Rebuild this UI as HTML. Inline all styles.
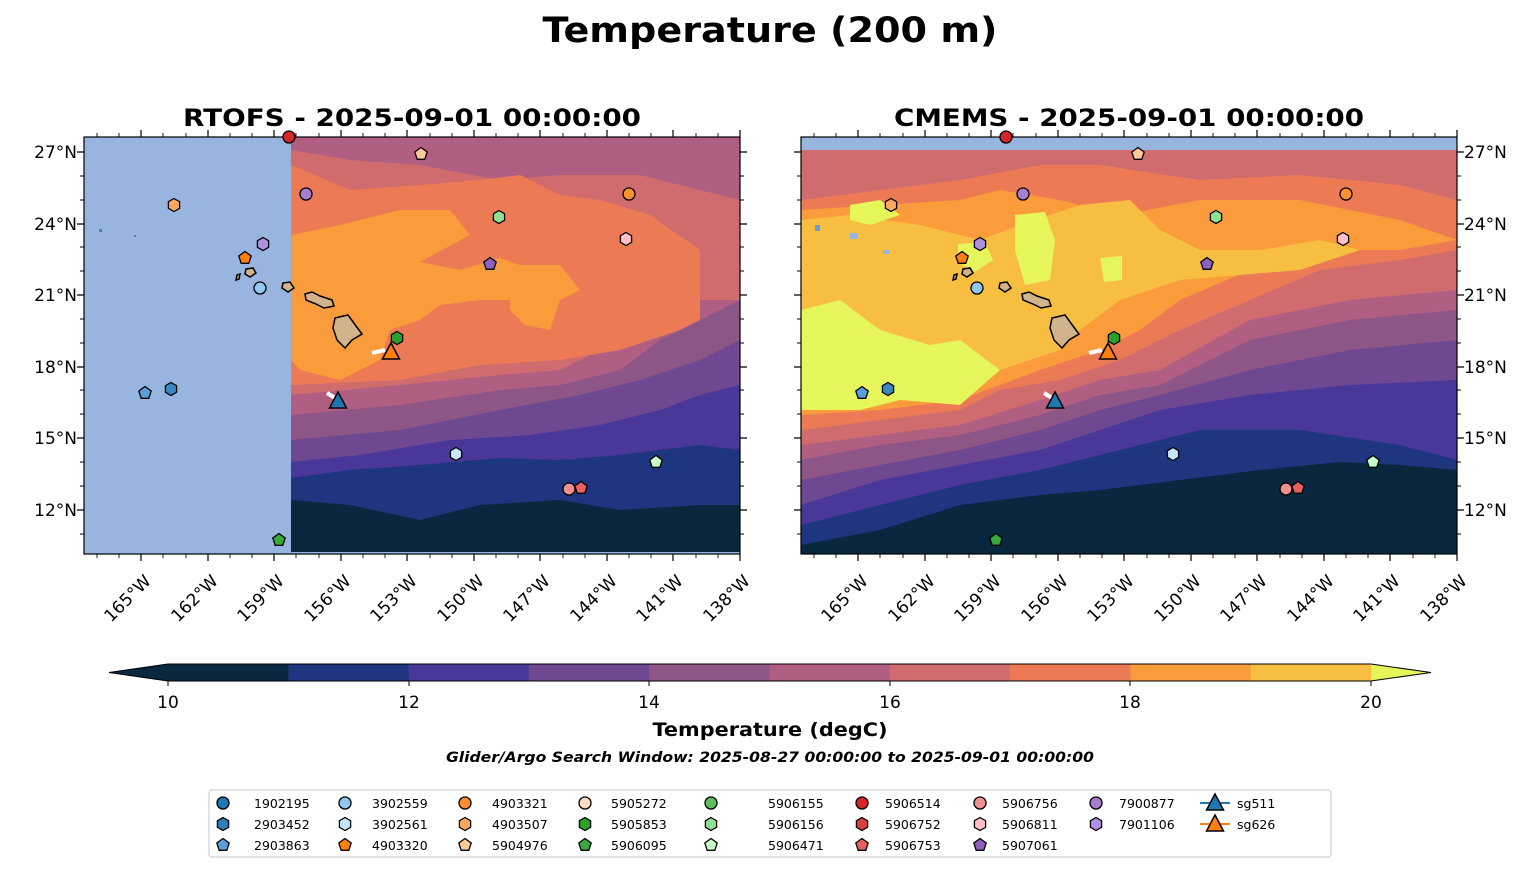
<!DOCTYPE html>
<html><head><meta charset="utf-8"><style>body{margin:0;background:#fff}svg{display:block}text{font-family:"DejaVu Sans","Liberation Sans",sans-serif}</style></head><body>
<svg width="1540" height="889" viewBox="0 0 1540 889" xmlns="http://www.w3.org/2000/svg">
<defs>
<clipPath id="cl"><rect x="84" y="137" width="656" height="417"/></clipPath>
<clipPath id="cr"><rect x="801" y="137" width="656" height="417"/></clipPath>
<polygon id="hex" points="0,-6.5 5.6,-3.25 5.6,3.25 0,6.5 -5.6,3.25 -5.6,-3.25" stroke="#000" stroke-width="1.3"/>
<polygon id="pent" points="0,-6.5 6.2,-2 3.8,5.3 -3.8,5.3 -6.2,-2" stroke="#000" stroke-width="1.3"/>
<circle id="circ" r="6" stroke="#000" stroke-width="1.3"/>
<polygon id="tri" points="0,-9 8.5,7 -8.5,7" stroke="#000" stroke-width="1.5"/>
<g id="isl" fill="#d2b48c" stroke="#000" stroke-width="1.5">
<path d="M335,318 L348,315 L356,326 L362,334 L352,340 L345,348 L337,340 L333,328 Z"/>
<path d="M305,294 L312,292 L320,296 L332,300 L334,306 L324,308 L316,304 L306,300 Z"/>
<path d="M283,283 L290,282 L294,288 L288,292 L282,288 Z"/>
<path d="M246,269 L253,268 L256,273 L250,277 L245,274 Z"/>
<path d="M237,275 L240,274 L239,279 L236,280 Z"/>
</g>
</defs>

<text x="770" y="42" font-size="35" font-weight="bold" text-anchor="middle" textLength="455" lengthAdjust="spacingAndGlyphs">Temperature (200 m)</text>
<text x="412" y="126" font-size="24" font-weight="bold" text-anchor="middle" textLength="458" lengthAdjust="spacingAndGlyphs">RTOFS - 2025-09-01 00:00:00</text>
<text x="1129" y="126" font-size="24" font-weight="bold" text-anchor="middle" textLength="470" lengthAdjust="spacingAndGlyphs">CMEMS - 2025-09-01 00:00:00</text>

<!-- LEFT MAP -->
<g clip-path="url(#cl)">
<rect x="84" y="137" width="656" height="417" fill="#07283f"/>
<path fill="#1e3580" d="M291,137 L291,500 350,505 420,520 480,505 560,500 620,510 700,505 740,505 740,137Z"/>
<path fill="#4a379a" d="M291,137 L291,478 350,470 420,465 500,458 560,460 620,455 700,445 740,450 740,137Z"/>
<path fill="#6e4890" d="M291,137 L291,462 360,455 450,440 530,435 600,425 660,410 700,395 740,385 740,137Z"/>
<path fill="#8e5686" d="M291,137 L291,440 400,430 500,410 580,395 640,380 700,360 740,340 740,137Z"/>
<path fill="#b05f82" d="M291,137 L291,415 400,405 500,390 560,385 620,370 660,340 700,320 740,300 740,137Z"/>
<path fill="#d06b6e" d="M291,150 L350,160 420,165 500,180 560,175 640,175 700,190 740,200 740,300 700,300 660,320 620,340 560,370 500,375 400,385 291,395Z"/>
<path fill="#ec7b55" d="M291,165 L350,190 420,185 480,180 520,175 560,195 600,200 650,215 700,250 700,320 680,330 620,350 560,360 480,365 400,380 291,385Z"/>
<path fill="#fa9b3c" d="M291,235 L340,225 400,210 450,210 470,235 420,262 460,270 500,258 520,265 560,265 580,290 560,300 520,300 480,300 440,305 420,320 390,330 380,360 340,380 300,370 291,360Z"/>
<path fill="#fa9b3c" d="M510,290 L545,285 560,300 550,330 525,325 510,310Z"/>
<rect x="84" y="137" width="207" height="417" fill="#98b5e0"/>
<rect x="84" y="552" width="656" height="2" fill="#98b5e0"/>
<use href="#isl"/>
<rect x="99" y="229" width="3" height="3" fill="#5080b0"/>
<rect x="134" y="235" width="2" height="2" fill="#5080b0"/>
<line x1="372" y1="353" x2="385" y2="350" stroke="#fff" stroke-width="4"/>
<line x1="327" y1="393" x2="335" y2="398" stroke="#fff" stroke-width="4"/>
</g>
<rect x="84" y="137" width="656" height="417" fill="none" stroke="#000" stroke-width="1.2"/>

<!-- RIGHT MAP -->
<g clip-path="url(#cr)">
<rect x="801" y="137" width="656" height="417" fill="#07283f"/>
<path fill="#1e3580" d="M801,137 L801,545 880,530 960,505 1040,495 1100,490 1180,480 1260,470 1340,462 1400,465 1457,470 1457,137Z"/>
<path fill="#4a379a" d="M801,137 L801,525 880,505 960,485 1040,470 1100,455 1160,440 1200,430 1300,430 1400,445 1457,460 1457,137Z"/>
<path fill="#6e4890" d="M801,137 L801,505 880,480 960,465 1040,450 1100,430 1160,410 1250,395 1350,385 1457,380 1457,137Z"/>
<path fill="#8e5686" d="M801,137 L801,480 880,465 960,450 1040,430 1100,410 1160,395 1250,370 1350,350 1457,340 1457,137Z"/>
<path fill="#b05f82" d="M801,137 L801,460 880,445 960,435 1040,415 1100,395 1160,385 1250,340 1350,320 1457,310 1457,137Z"/>
<path fill="#d06b6e" d="M801,150 L1457,150 1457,290 1350,300 1250,320 1160,370 1100,380 1040,400 960,425 880,435 801,445Z"/>
<path fill="#ec7b55" d="M801,200 L880,190 960,180 1040,165 1100,165 1200,180 1300,175 1400,185 1457,200 1457,250 1400,260 1320,270 1250,300 1180,330 1120,360 1060,380 1000,390 960,410 880,420 801,430Z"/>
<path fill="#fa9b3c" d="M801,210 L880,205 960,200 1000,190 1060,200 1120,215 1200,200 1300,200 1400,220 1457,240 1400,250 1320,250 1250,270 1180,300 1140,330 1100,350 1040,370 960,400 880,410 801,415Z"/>
<path fill="#f8be42" d="M801,220 L850,215 920,225 980,240 1020,225 1080,205 1130,200 1160,230 1200,250 1260,250 1320,240 1360,250 1300,270 1240,275 1180,280 1120,300 1080,330 1060,350 1000,370 960,390 880,400 801,400Z"/>
<path fill="#e5f55a" d="M801,310 L840,300 880,330 930,345 960,340 1000,370 960,405 900,400 860,410 801,410Z"/>
<path fill="#e5f55a" d="M850,205 L880,200 900,215 870,225 850,220Z"/>
<path fill="#e5f55a" d="M958,244 L985,242 993,260 975,272 958,262Z"/>
<path fill="#e5f55a" d="M1015,215 L1045,212 1055,240 1050,280 1025,285 1015,250Z"/>
<path fill="#e5f55a" d="M1100,258 L1122,256 1122,280 1104,282Z"/>
<rect x="801" y="137" width="656" height="13" fill="#98b5e0"/>
<use href="#isl" transform="translate(717,0)"/>
<rect x="815" y="225" width="5" height="6" fill="#6a9ad8"/>
<rect x="850" y="233" width="8" height="6" fill="#98b5e0"/>
<rect x="883" y="250" width="6" height="4" fill="#98b5e0"/>
<line x1="1089" y1="353" x2="1102" y2="350" stroke="#fff" stroke-width="4"/>
<line x1="1044" y1="393" x2="1052" y2="398" stroke="#fff" stroke-width="4"/>
</g>
<rect x="801" y="137" width="656" height="417" fill="none" stroke="#000" stroke-width="1.2"/>

<!-- MARKERS (left) -->
<g id="mk">
<use href="#circ" x="289" y="137" fill="#d62728"/>
<use href="#circ" x="306" y="194" fill="#a77fd0"/>
<use href="#pent" x="421" y="154" fill="#ffc896"/>
<use href="#circ" x="629" y="194" fill="#ff9030"/>
<use href="#hex" x="499" y="217" fill="#90e090"/>
<use href="#hex" x="626" y="239" fill="#ffc0c8"/>
<use href="#pent" x="490" y="264" fill="#9060c0"/>
<use href="#hex" x="397" y="338" fill="#2ca02c"/>
<use href="#tri" x="391" y="352" fill="#ff7f0e"/>
<use href="#tri" x="338" y="401" fill="#1f77b4"/>
<use href="#hex" x="456" y="454" fill="#c6e6ff"/>
<use href="#pent" x="656" y="462" fill="#c8ffc8"/>
<use href="#circ" x="569" y="489" fill="#f09090"/>
<use href="#pent" x="581" y="488" fill="#e86060"/>
<use href="#pent" x="279" y="540" fill="#3aa83a"/>
<use href="#hex" x="174" y="205" fill="#ffaa60"/>
<use href="#pent" x="245" y="258" fill="#ff7f0e"/>
<use href="#hex" x="263" y="244" fill="#b090e0"/>
<use href="#circ" x="260" y="288" fill="#90c8f0"/>
<use href="#pent" x="145" y="393" fill="#5aa0d8"/>
<use href="#hex" x="171" y="389" fill="#3a88c0"/>
</g>
<use href="#mk" transform="translate(717,0)"/>

<!-- AXES TICKS -->
<g stroke="#000" stroke-width="1.2">
<path id="maj" d="M141,137v-7M208,137v-7M274,137v-7M341,137v-7M407,137v-7M474,137v-7M540,137v-7M607,137v-7M673,137v-7M740,137v-7
M141,554v7M208,554v7M274,554v7M341,554v7M407,554v7M474,554v7M540,554v7M607,554v7M673,554v7M740,554v7
M84,152h-7M84,224h-7M84,295h-7M84,367h-7M84,438h-7M84,510h-7
M740,152h7M740,224h7M740,295h7M740,367h7M740,438h7M740,510h7"/>
<path transform="translate(717,0)" d="M141,137v-7M208,137v-7M274,137v-7M341,137v-7M407,137v-7M474,137v-7M540,137v-7M607,137v-7M673,137v-7M740,137v-7
M141,554v7M208,554v7M274,554v7M341,554v7M407,554v7M474,554v7M540,554v7M607,554v7M673,554v7M740,554v7
M84,152h-7M84,224h-7M84,295h-7M84,367h-7M84,438h-7M84,510h-7
M740,152h7M740,224h7M740,295h7M740,367h7M740,438h7M740,510h7"/>
<path stroke-width="0.9" d="M97,137v-4M119,137v-4M163,137v-4M186,137v-4M230,137v-4M252,137v-4M296,137v-4M319,137v-4M363,137v-4M385,137v-4M430,137v-4M452,137v-4M496,137v-4M518,137v-4M563,137v-4M585,137v-4M629,137v-4M651,137v-4M696,137v-4M718,137v-4
M97,554v4M119,554v4M163,554v4M186,554v4M230,554v4M252,554v4M296,554v4M319,554v4M363,554v4M385,554v4M430,554v4M452,554v4M496,554v4M518,554v4M563,554v4M585,554v4M629,554v4M651,554v4M696,554v4M718,554v4
M84,176h-4M84,200h-4M84,247h-4M84,271h-4M84,319h-4M84,343h-4M84,390h-4M84,414h-4M84,462h-4M84,486h-4M84,534h-4
M740,176h4M740,200h4M740,247h4M740,271h4M740,319h4M740,343h4M740,390h4M740,414h4M740,462h4M740,486h4M740,534h4"/>
<path stroke-width="0.9" transform="translate(717,0)" d="M97,137v-4M119,137v-4M163,137v-4M186,137v-4M230,137v-4M252,137v-4M296,137v-4M319,137v-4M363,137v-4M385,137v-4M430,137v-4M452,137v-4M496,137v-4M518,137v-4M563,137v-4M585,137v-4M629,137v-4M651,137v-4M696,137v-4M718,137v-4
M97,554v4M119,554v4M163,554v4M186,554v4M230,554v4M252,554v4M296,554v4M319,554v4M363,554v4M385,554v4M430,554v4M452,554v4M496,554v4M518,554v4M563,554v4M585,554v4M629,554v4M651,554v4M696,554v4M718,554v4
M84,176h-4M84,200h-4M84,247h-4M84,271h-4M84,319h-4M84,343h-4M84,390h-4M84,414h-4M84,462h-4M84,486h-4M84,534h-4
M740,176h4M740,200h4M740,247h4M740,271h4M740,319h4M740,343h4M740,390h4M740,414h4M740,462h4M740,486h4M740,534h4"/>
</g>

<g font-size="17" text-anchor="end">
<text x="77" y="158">27°N</text><text x="77" y="230">24°N</text><text x="77" y="301">21°N</text><text x="77" y="373">18°N</text><text x="77" y="444">15°N</text><text x="77" y="516">12°N</text>
</g>
<g font-size="17">
<text x="1464" y="158">27°N</text><text x="1464" y="230">24°N</text><text x="1464" y="301">21°N</text><text x="1464" y="373">18°N</text><text x="1464" y="444">15°N</text><text x="1464" y="516">12°N</text>
</g>
<g font-size="17" text-anchor="end" id="xl">
<text transform="translate(152,582) rotate(-45)">165°W</text>
<text transform="translate(219,582) rotate(-45)">162°W</text>
<text transform="translate(285,582) rotate(-45)">159°W</text>
<text transform="translate(352,582) rotate(-45)">156°W</text>
<text transform="translate(418,582) rotate(-45)">153°W</text>
<text transform="translate(485,582) rotate(-45)">150°W</text>
<text transform="translate(551,582) rotate(-45)">147°W</text>
<text transform="translate(618,582) rotate(-45)">144°W</text>
<text transform="translate(684,582) rotate(-45)">141°W</text>
<text transform="translate(751,582) rotate(-45)">138°W</text>
</g>
<use href="#xl" transform="translate(717,0)"/>

<!-- COLORBAR -->
<g>
<polygon points="109,672.5 168,664 168,681" fill="#07283f"/>
<rect x="168" y="664" width="121" height="17" fill="#07283f"/>
<rect x="288.3" y="664" width="121" height="17" fill="#1e3580"/>
<rect x="408.6" y="664" width="121" height="17" fill="#4a379a"/>
<rect x="528.9" y="664" width="121" height="17" fill="#6e4890"/>
<rect x="649.2" y="664" width="121" height="17" fill="#8e5686"/>
<rect x="769.5" y="664" width="121" height="17" fill="#b05f82"/>
<rect x="889.8" y="664" width="121" height="17" fill="#d06b6e"/>
<rect x="1010.1" y="664" width="121" height="17" fill="#ec7b55"/>
<rect x="1130.4" y="664" width="121" height="17" fill="#fa9b3c"/>
<rect x="1250.7" y="664" width="120.3" height="17" fill="#f8be42"/>
<polygon points="1371,664 1431,672.5 1371,681" fill="#e5f55a"/>
<polygon points="109,672.5 168,664 1371,664 1431,672.5 1371,681 168,681" fill="none" stroke="#000" stroke-width="1"/>
<path d="M168,681v5M409,681v5M649,681v5M890,681v5M1130,681v5M1371,681v5" stroke="#000"/>
</g>
<g font-size="17" text-anchor="middle">
<text x="168" y="708">10</text><text x="409" y="708">12</text><text x="649" y="708">14</text><text x="890" y="708">16</text><text x="1130" y="708">18</text><text x="1371" y="708">20</text>
</g>
<text x="770" y="736" font-size="19" font-weight="bold" text-anchor="middle" textLength="235" lengthAdjust="spacingAndGlyphs">Temperature (degC)</text>
<text x="770" y="762" font-size="14" font-weight="bold" font-style="italic" text-anchor="middle" textLength="648" lengthAdjust="spacingAndGlyphs">Glider/Argo Search Window: 2025-08-27 00:00:00 to 2025-09-01 00:00:00</text>

<!-- LEGEND -->
<rect x="209" y="790" width="1122" height="67" rx="3" fill="#fff" stroke="#d0d0d0" stroke-width="1.2"/>
<g font-size="12.5">
<use href="#circ" x="223" y="803" fill="#1f77b4"/><text x="254" y="808">1902195</text>
<use href="#hex" x="223" y="824" fill="#2f7fb8"/><text x="254" y="829">2903452</text>
<use href="#pent" x="223" y="845" fill="#5aa0d8"/><text x="254" y="850">2903863</text>
<use href="#circ" x="345" y="803" fill="#90c8f0"/><text x="372" y="808">3902559</text>
<use href="#hex" x="345" y="824" fill="#c6e6ff"/><text x="372" y="829">3902561</text>
<use href="#pent" x="345" y="845" fill="#ff7f0e"/><text x="372" y="850">4903320</text>
<use href="#circ" x="465" y="803" fill="#ff9030"/><text x="492" y="808">4903321</text>
<use href="#hex" x="465" y="824" fill="#ffaa60"/><text x="492" y="829">4903507</text>
<use href="#pent" x="465" y="845" fill="#ffc896"/><text x="492" y="850">5904976</text>
<use href="#circ" x="585" y="803" fill="#ffdcc0"/><text x="611" y="808">5905272</text>
<use href="#hex" x="585" y="824" fill="#2ca02c"/><text x="611" y="829">5905853</text>
<use href="#pent" x="585" y="845" fill="#3aa83a"/><text x="611" y="850">5906095</text>
<use href="#circ" x="711" y="803" fill="#60c060"/><text x="768" y="808">5906155</text>
<use href="#hex" x="711" y="824" fill="#90e090"/><text x="768" y="829">5906156</text>
<use href="#pent" x="711" y="845" fill="#c8ffc8"/><text x="768" y="850">5906471</text>
<use href="#circ" x="862" y="803" fill="#d62728"/><text x="885" y="808">5906514</text>
<use href="#hex" x="862" y="824" fill="#d84040"/><text x="885" y="829">5906752</text>
<use href="#pent" x="862" y="845" fill="#e86060"/><text x="885" y="850">5906753</text>
<use href="#circ" x="980" y="803" fill="#f09090"/><text x="1002" y="808">5906756</text>
<use href="#hex" x="980" y="824" fill="#ffc0c8"/><text x="1002" y="829">5906811</text>
<use href="#pent" x="980" y="845" fill="#9060c0"/><text x="1002" y="850">5907061</text>
<use href="#circ" x="1096" y="803" fill="#a77fd0"/><text x="1119" y="808">7900877</text>
<use href="#hex" x="1096" y="824" fill="#b090e0"/><text x="1119" y="829">7901106</text>
<line x1="1200" y1="803" x2="1230" y2="803" stroke="#1f77b4" stroke-width="2"/><use href="#tri" x="1215" y="803" fill="#1f77b4"/><text x="1237" y="808">sg511</text>
<line x1="1200" y1="824" x2="1230" y2="824" stroke="#ff7f0e" stroke-width="2"/><use href="#tri" x="1215" y="824" fill="#ff7f0e"/><text x="1237" y="829">sg626</text>
</g>
</svg>
</body></html>
